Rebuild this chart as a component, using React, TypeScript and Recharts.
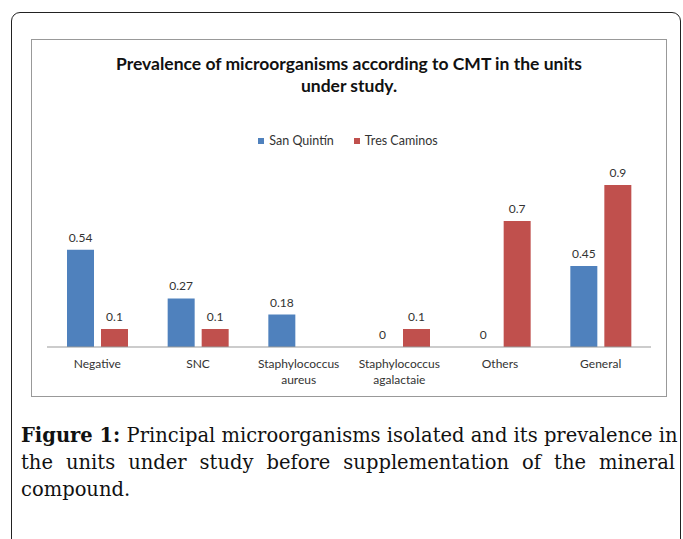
import React from 'react';
import { BarChart, Bar, XAxis, YAxis, LabelList, Rectangle } from 'recharts';

const categories = ['Negative', 'SNC', 'Staphylococcus aureus', 'Staphylococcus agalactaie', 'Others', 'General'];
const sanQuintin = [0.54, 0.27, 0.18, 0, 0, 0.45];
const tresCaminos: (number | null)[] = [0.1, 0.1, null, 0.1, 0.7, 0.9];

const data = categories.map((name, i) => ({
  name,
  sq: sanQuintin[i],
  tc: tresCaminos[i],
}));

const FONT = 'Lato, "Open Sans", sans-serif';

const CatTick = (props: any) => {
  const { x, y, payload } = props;
  const words = String(payload.value).split(' ');
  return (
    <g transform={`translate(${x},${y})`}>
      {words.map((w, i) => (
        <text key={i} x={0} y={13 + i * 16} textAnchor="middle" fill="#333" fontSize={12} fontFamily={FONT}>
          {w}
        </text>
      ))}
    </g>
  );
};

// value above each bar, zero bars included
const renderValue = (props: any) => {
  const { x, y, width, value } = props;
  if (value === null || value === undefined) return null;
  return (
    <text x={x + width / 2} y={y - 8} textAnchor="middle" fill="#333" fontSize={12} fontFamily={FONT}>
      {value}
    </text>
  );
};

// zero values get a tiny min size so their label is kept, but no rectangle is drawn
const zeroMin = (value: any) => (value === 0 ? 0.5 : 0);
const barShape = (props: any) => {
  if (!props.value && props.value !== undefined) return <g />;
  if (props.payload && props.payload[props.dataKey] === 0) return <g />;
  return <Rectangle {...props} />;
};

const captionLine: React.CSSProperties = { textAlign: 'justify', textAlignLast: 'justify', whiteSpace: 'nowrap' };

export default function App() {
  return (
    <div style={{ position: 'absolute', left: 0, top: 0, width: 683, height: 539, overflow: 'hidden', background: '#fff' }}>
      {/* outer frame */}
      <div style={{ position: 'absolute', left: 11, top: 12, width: 668, height: 560, border: '1.5px solid #222', borderRadius: 9 }} />

      {/* chart box */}
      <div style={{ position: 'absolute', left: 31, top: 39, width: 634, height: 356, border: '1px solid #999', background: '#fff' }}>
        <div style={{ position: 'absolute', left: 0, right: 0, top: 13, textAlign: 'center', fontFamily: FONT, fontWeight: 700, fontSize: 17.5, lineHeight: '22px', color: '#111' }}>
          Prevalence of microorganisms according to CMT in the units
          <br />
          under study.
        </div>
        <div style={{ position: 'absolute', left: 0, right: 0, top: 93, display: 'flex', justifyContent: 'center', gap: 20, fontFamily: FONT, fontSize: 12.5, color: '#333', paddingRight: 2 }}>
          <span style={{ display: 'flex', alignItems: 'center' }}>
            <span style={{ width: 6, height: 6, background: '#4F81BD', marginRight: 5 }} />
            San Quintín
          </span>
          <span style={{ display: 'flex', alignItems: 'center' }}>
            <span style={{ width: 6, height: 6, background: '#C0504D', marginRight: 5 }} />
            Tres Caminos
          </span>
        </div>
        <BarChart
          width={634}
          height={356}
          data={data}
          margin={{ top: 127, right: 15, left: 15, bottom: 0 }}
          barSize={27}
          barGap={7}
        >
          <XAxis
            dataKey="name"
            height={49}
            axisLine={{ stroke: '#999' }}
            tickLine={false}
            interval={0}
            tick={<CatTick />}
          />
          <YAxis hide domain={[0, 1]} />
          <Bar dataKey="sq" fill="#4F81BD" isAnimationActive={false} minPointSize={zeroMin} shape={barShape}>
            <LabelList dataKey="sq" content={renderValue} />
          </Bar>
          <Bar dataKey="tc" fill="#C0504D" isAnimationActive={false} minPointSize={zeroMin} shape={barShape}>
            <LabelList dataKey="tc" content={renderValue} />
          </Bar>
        </BarChart>
      </div>

      {/* caption */}
      <div style={{ position: 'absolute', left: 21, top: 422, width: 654, fontFamily: '"DejaVu Serif", serif', fontSize: 19.5, lineHeight: '27px', color: '#111' }}>
        <div style={captionLine}>
          <b>Figure 1:</b> Principal microorganisms isolated and its prevalence in
        </div>
        <div style={captionLine}>the units under study before supplementation of the mineral</div>
        <div>compound.</div>
      </div>
    </div>
  );
}
